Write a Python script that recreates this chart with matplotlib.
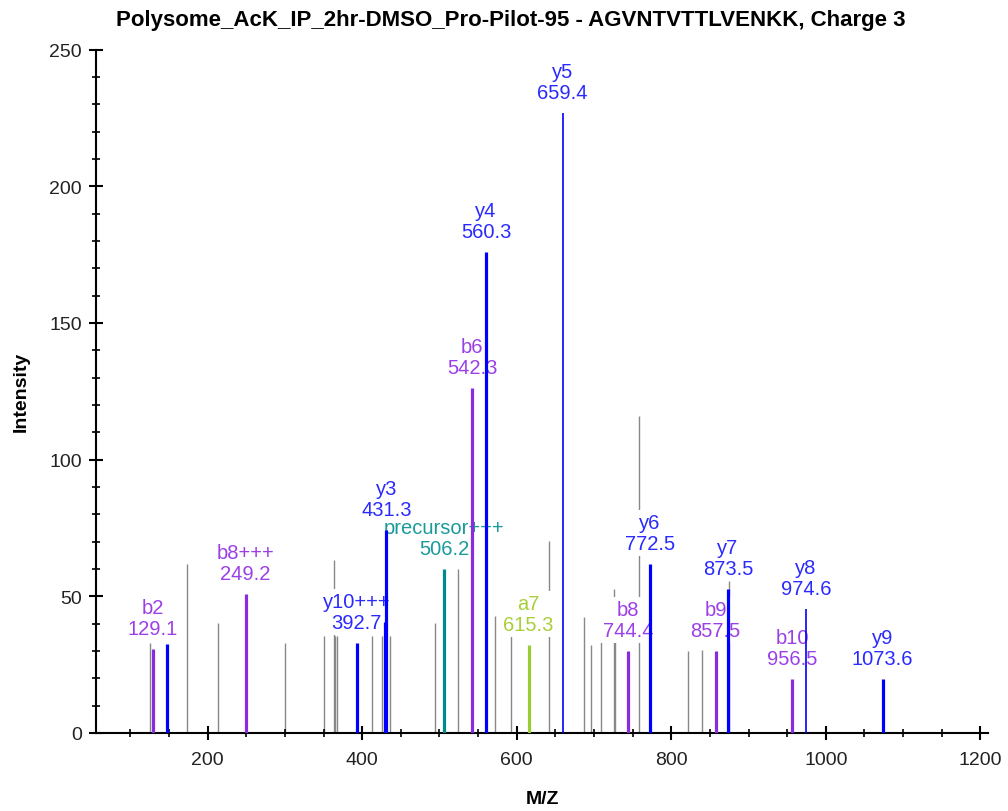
import matplotlib
matplotlib.use("Agg")
import matplotlib.pyplot as plt
from matplotlib.ticker import MultipleLocator

plt.rcParams['font.family'] = ['Liberation Sans', 'DejaVu Sans']

# unmatched peaks (grey)
gray_mz = [126, 173, 214, 300, 351, 364, 365.5, 367, 413, 425.5, 436.5, 494.5,
           524.5, 571.5, 593, 642, 687, 696, 709, 726, 727.5, 758, 822, 839.5, 874.5]
gray_int = [32.9, 61.8, 40.1, 32.9, 35.4, 63.3, 35.4, 35.4, 35.4, 35.4, 35.4, 40.1,
            59.9, 42.7, 35.4, 70.1, 42.6, 32.3, 33.2, 52.7, 33.2, 115.9, 29.9, 30.5, 55.7]

# matched fragment ions
ion_mz = [129.1, 147.1, 249.2, 392.7, 429.5, 431.3, 506.2, 542.3, 560.3, 615.3,
          659.4, 744.4, 772.5, 857.5, 873.5, 956.5, 974.6, 1073.6]
ion_int = [30.7, 32.4, 50.9, 32.9, 40.5, 74.4, 59.9, 126.1, 175.9, 32.3,
           226.9, 29.9, 61.8, 29.9, 52.7, 19.8, 45.4, 19.8]
ion_label = ['b2', '', 'b8+++', 'y10+++', '', 'y3', 'precursor+++', 'b6', 'y4', 'a7',
             'y5', 'b8', 'y6', 'b9', 'y7', 'b10', 'y8', 'y9']
ion_type = ['b', 'y', 'b', 'y', 'y', 'y', 'p', 'b', 'y', 'a',
            'y', 'b', 'y', 'b', 'y', 'b', 'y', 'y']

line_colors = {'b': '#8a2be2', 'y': '#0000ff', 'a': '#9acd32', 'p': '#008b8b'}
text_colors = {'b': '#9b40e8', 'y': '#2a2aff', 'a': '#a8cf3a', 'p': '#1a9a9a'}
thin = ['y5', 'y8']

fig = plt.figure(figsize=(10.08, 8.12), dpi=100)
ax = fig.add_axes([0.0952, 0.0961, 0.8850, 0.8415])

ax.vlines(gray_mz, 0, gray_int, color='#888888', lw=1.0, zorder=1)

for mz, h, lab, t in zip(ion_mz, ion_int, ion_label, ion_type):
    lw = 1.2 if lab in thin else 2.3
    ax.vlines(mz, 0, h, color=line_colors[t], lw=lw, zorder=3)

# labels drawn low to high so higher boxes sit on top
order = sorted(range(len(ion_mz)), key=lambda i: ion_int[i])
for i in order:
    if not ion_label[i]:
        continue
    ax.annotate(f"{ion_label[i]}\n{ion_mz[i]:.1f}", xy=(ion_mz[i], ion_int[i]),
                xytext=(0, 8), textcoords='offset points', ha='center', va='bottom',
                fontsize=14.5, linespacing=1.12, color=text_colors[ion_type[i]],
                bbox=dict(boxstyle='square,pad=0.15', fc='white', ec='none'),
                zorder=2)

ax.set_xlim(55.5, 1210)
ax.set_ylim(0, 250)
ax.xaxis.set_major_locator(MultipleLocator(200))
ax.xaxis.set_minor_locator(MultipleLocator(50))
ax.yaxis.set_major_locator(MultipleLocator(50))
ax.yaxis.set_minor_locator(MultipleLocator(10))

for s in ['top', 'right']:
    ax.spines[s].set_visible(False)
for s in ['left', 'bottom']:
    ax.spines[s].set_linewidth(1.5)

ax.tick_params(which='major', direction='inout', length=10, width=1.5,
               labelsize=14, labelcolor='#222222', pad=5)
ax.tick_params(axis='x', which='major', pad=8)
ax.tick_params(which='minor', direction='inout', length=6, width=1.2)

ax.set_xlabel("M/Z", fontsize=14, fontweight='bold', labelpad=16)
ax.set_ylabel("Intensity", fontsize=14, fontweight='bold', labelpad=14)
fig.text(0.507, 0.975, "Polysome_AcK_IP_2hr-DMSO_Pro-Pilot-95 - AGVNTVTTLVENKK, Charge 3",
         fontsize=16, fontweight='bold', ha='center', va='center')

fig.savefig("out.png", dpi=100)
